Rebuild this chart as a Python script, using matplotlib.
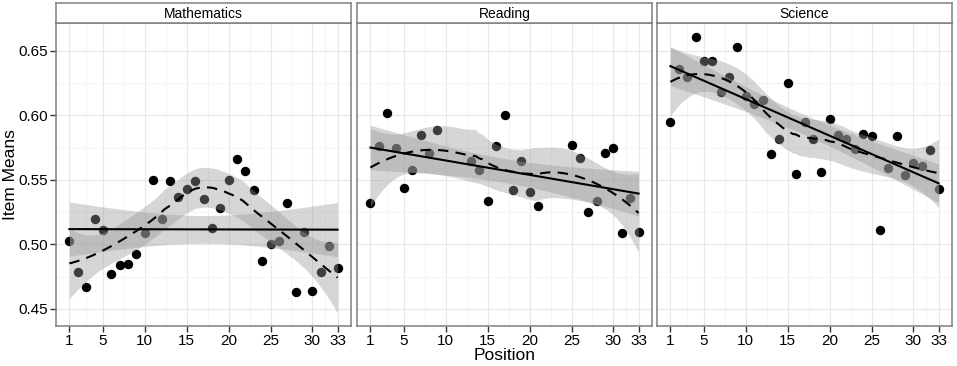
import numpy as np
import matplotlib
matplotlib.use("Agg")
import matplotlib.pyplot as plt

plt.rcParams["font.family"] = ["Liberation Sans", "DejaVu Sans"]

# item means
subjects = ["Mathematics", "Reading", "Science"]

math_pos = list(range(1, 34))
math_means = [0.503, 0.479, 0.467, 0.520, 0.511, 0.477, 0.484, 0.485, 0.493, 0.509,
              0.550, 0.520, 0.549, 0.537, 0.543, 0.549, 0.535, 0.513, 0.528, 0.550,
              0.566, 0.557, 0.542, 0.487, 0.500, 0.503, 0.532, 0.463, 0.510, 0.464,
              0.479, 0.499, 0.482]

read_pos = [1, 2, 3, 4, 5, 6, 7, 8, 9, 13, 14, 15, 16, 17, 18, 19, 20, 21,
            25, 26, 27, 28, 29, 30, 31, 32, 33]
read_means = [0.532, 0.576, 0.602, 0.575, 0.544, 0.558, 0.585, 0.571, 0.589,
              0.565, 0.558, 0.534, 0.576, 0.600, 0.542, 0.565, 0.541, 0.530,
              0.577, 0.567, 0.525, 0.534, 0.571, 0.575, 0.509, 0.536, 0.510]

sci_pos = list(range(1, 34))
sci_means = [0.595, 0.636, 0.630, 0.661, 0.642, 0.642, 0.618, 0.630, 0.653, 0.615,
             0.609, 0.612, 0.570, 0.582, 0.625, 0.555, 0.595, 0.582, 0.556, 0.597,
             0.585, 0.582, 0.574, 0.586, 0.584, 0.511, 0.559, 0.584, 0.554, 0.563,
             0.561, 0.573, 0.543]

panels = [(math_pos, math_means), (read_pos, read_means), (sci_pos, sci_means)]
xticks = [1, 5, 10, 15, 20, 25, 30, 33]
yticks = [0.45, 0.50, 0.55, 0.60, 0.65]


def t975(df):
    # Cornish-Fisher approximation of the t quantile
    z = 1.959964
    return z + (z**3 + z) / (4 * df) + (5 * z**5 + 16 * z**3 + 3 * z) / (96 * df**2)


def loess_fit(x, y, grid, span=0.75):
    """local quadratic loess with tricube weights, plus standard errors"""
    x = np.asarray(x, float)
    y = np.asarray(y, float)
    n = len(x)
    q = int(np.floor(span * n))

    def operator(points):
        L = np.zeros((len(points), n))
        for i, x0 in enumerate(points):
            d = np.abs(x - x0)
            h = np.sort(d)[q - 1]
            w = np.clip(1 - (d / h) ** 3, 0, None) ** 3
            X = np.column_stack([np.ones(n), x - x0, (x - x0) ** 2])
            XtW = X.T * w
            L[i] = np.linalg.solve(XtW @ X, XtW)[0]
        return L

    Ld = operator(x)
    R = np.eye(n) - Ld
    M = R.T @ R
    d1 = np.trace(M)
    d2 = np.trace(M @ M)
    s = np.sqrt(np.sum((R @ y) ** 2) / d1)
    Lg = operator(grid)
    fit = Lg @ y
    se = s * np.sqrt(np.sum(Lg ** 2, axis=1))
    tq = t975(d1 ** 2 / d2)
    return fit, fit - tq * se, fit + tq * se


def lm_fit(x, y, grid):
    x = np.asarray(x, float)
    y = np.asarray(y, float)
    n = len(x)
    b, a = np.polyfit(x, y, 1)
    res = y - (a + b * x)
    s = np.sqrt(np.sum(res ** 2) / (n - 2))
    sxx = np.sum((x - x.mean()) ** 2)
    fit = a + b * grid
    se = s * np.sqrt(1 / n + (grid - x.mean()) ** 2 / sxx)
    tq = t975(n - 2)
    return fit, fit - tq * se, fit + tq * se


W, H = 957, 366
fig = plt.figure(figsize=(W / 100, H / 100), dpi=100)

lefts = [56, 357, 657]
pw = 295
top, bottom = 23, 326
ribbon = "#999999"
edge = "#7f7f7f"

for k, (xs, ys) in enumerate(panels):
    ax = fig.add_axes([lefts[k] / W, (H - bottom) / H, pw / W, (bottom - top) / H])
    grid = np.linspace(min(xs), max(xs), 80)

    ax.scatter(xs, ys, s=46, color="black", linewidths=0, zorder=3)

    fl, lo_l, hi_l = lm_fit(xs, ys, grid)
    fs, lo_s, hi_s = loess_fit(xs, ys, grid)
    ax.fill_between(grid, lo_l, hi_l, color=ribbon, alpha=0.4, lw=0, zorder=4)
    ax.fill_between(grid, lo_s, hi_s, color=ribbon, alpha=0.4, lw=0, zorder=4)
    ax.plot(grid, fl, color="black", lw=1.5, zorder=5)
    ax.plot(grid, fs, color="black", lw=1.5, dashes=(5, 3.5), zorder=5)

    ax.set_xlim(-0.6, 34.6)
    ax.set_ylim(0.4368, 0.6717)
    ax.set_xticks(xticks)
    ax.set_xticks([3, 7.5, 12.5, 17.5, 22.5, 27.5, 31.5], minor=True)
    ax.set_yticks(yticks)
    ax.set_yticks([0.475, 0.525, 0.575, 0.625], minor=True)
    ax.grid(which="major", color="#e8e8e8", lw=0.9, zorder=0)
    ax.grid(which="minor", color="#f3f3f3", lw=0.6, zorder=0)
    ax.set_axisbelow(True)
    ax.tick_params(which="minor", length=0)
    ax.tick_params(which="major", length=4, width=1, color="#333333",
                   labelsize=11, labelcolor="black", pad=2)
    ax.set_xticklabels([str(t) for t in xticks])
    if k == 0:
        ax.set_yticklabels(["%.2f" % t for t in yticks])
        ax.set_ylabel("Item Means", fontsize=12.5)
        ax.yaxis.set_label_coords(-0.128, 0.5)
    else:
        ax.tick_params(axis="y", left=False, labelleft=False)
    if k == 1:
        ax.set_xlabel("Position", fontsize=12.5, labelpad=0)
    for sp in ax.spines.values():
        sp.set_color(edge)
        sp.set_linewidth(1.1)

    # facet strip
    st = fig.add_axes([lefts[k] / W, (H - top) / H, pw / W, 20 / H])
    st.set_xticks([])
    st.set_yticks([])
    st.set_facecolor("white")
    for sp in st.spines.values():
        sp.set_color(edge)
        sp.set_linewidth(1.1)
    st.text(0.5, 0.45, subjects[k], ha="center", va="center", fontsize=10)

fig.savefig("out.png", dpi=100)
